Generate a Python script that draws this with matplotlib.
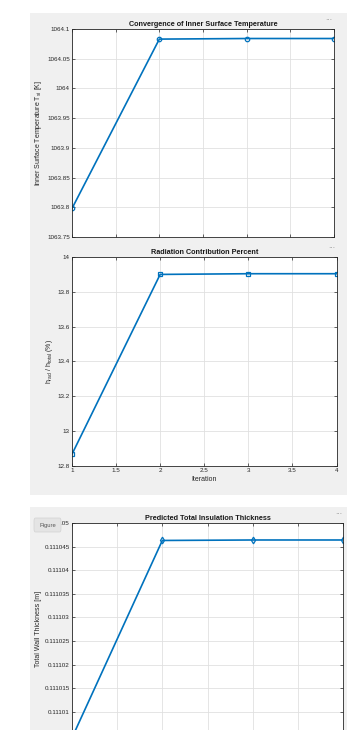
import matplotlib.pyplot as plt
from matplotlib.patches import Rectangle, FancyBboxPatch
from matplotlib.ticker import FormatStrFormatter, MultipleLocator

# iteration history
iteration = [1, 2, 3, 4]
T_si = [1063.798, 1064.083, 1064.084, 1064.084]
rad_pct = [12.868, 13.900, 13.904, 13.904]
thickness = [0.1110045, 0.1110463, 0.1110464, 0.1110464]
thick_ticks = [0.11101, 0.111015, 0.11102, 0.111025, 0.11103,
               0.111035, 0.11104, 0.111045, 0.11105]

blue = (0, 0.447, 0.741)
W, H = 347, 730

plt.rcParams['font.family'] = ['Liberation Sans', 'DejaVu Sans']
plt.rcParams['mathtext.fontset'] = 'custom'
plt.rcParams['mathtext.rm'] = 'Liberation Sans'
plt.rcParams['mathtext.it'] = 'Liberation Sans'

fig = plt.figure(figsize=(W / 100, H / 100), dpi=100)
fig.patch.set_facecolor('white')


def px_rect(x0, y0, x1, y1):
    # pixel box (top-left origin) -> figure fraction [l, b, w, h]
    return [x0 / W, 1 - y1 / H, (x1 - x0) / W, (y1 - y0) / H]


# the two grey MATLAB figure windows
for (x0, y0, x1, y1) in [(30, 13, 347, 495), (30, 507, 347, 760)]:
    l, b, w, h = px_rect(x0, y0, x1, y1)
    fig.patches.append(Rectangle((l, b), w, h, transform=fig.transFigure,
                                 facecolor='#f0f0f0', edgecolor='none', zorder=-5))


def style(ax, title, ylabel):
    ax.set_facecolor('white')
    ax.grid(True, color='#e0e0e0', linewidth=0.6)
    ax.set_axisbelow(True)
    for s in ax.spines.values():
        s.set_color('#262626')
        s.set_linewidth(0.6)
    ax.tick_params(direction='in', length=2.5, width=0.5, labelsize=4.5,
                   colors='#262626', top=True, right=True, pad=1.5)
    ax.set_title(title, fontsize=5.2, fontweight='bold', pad=2.5, color='#1a1a1a')
    ax.set_ylabel(ylabel, fontsize=5, color='#262626', labelpad=2)
    ax.set_xlim(1, 4)
    ax.xaxis.set_major_locator(MultipleLocator(0.5))


ax1 = fig.add_axes(px_rect(72, 29, 334, 237))
ax1.plot(iteration, T_si, '-o', color=blue, lw=1.2, ms=3.2, mfc='none', mew=0.9)
style(ax1, 'Convergence of Inner Surface Temperature', 'Inner Surface Temperature T$_{si}$ [K]')
ax1.set_ylim(1063.75, 1064.1)
ax1.yaxis.set_major_locator(MultipleLocator(0.05))
ax1.yaxis.set_major_formatter(FormatStrFormatter('%g'))
ax1.set_xticklabels([])

ax2 = fig.add_axes(px_rect(72, 257, 336.5, 466))
ax2.plot(iteration, rad_pct, '-s', color=blue, lw=1.2, ms=3.0, mfc='none', mew=0.9)
style(ax2, 'Radiation Contribution Percent', 'h$_{rad}$ / h$_{total}$ (%)')
ax2.set_ylim(12.8, 14)
ax2.yaxis.set_major_locator(MultipleLocator(0.2))
ax2.yaxis.set_major_formatter(FormatStrFormatter('%g'))
ax2.xaxis.set_major_formatter(FormatStrFormatter('%g'))
ax2.set_xlabel('Iteration', fontsize=5, color='#262626', labelpad=2)

ax3 = fig.add_axes(px_rect(72, 523, 343, 759))
ax3.plot(iteration, thickness, '-d', color=blue, lw=1.2, ms=3.4, mfc='none', mew=0.9)
style(ax3, 'Predicted Total Insulation Thickness', 'Total Wall Thickness [m]')
ax3.set_ylim(0.111, 0.11105)
ax3.set_yticks(thick_ticks)
ax3.yaxis.set_major_formatter(FormatStrFormatter('%g'))
ax3.set_xticklabels([])
ax3.yaxis.label.set_y(0.55)

# toolbar dots
for x, y in [(329, 21), (332, 249), (339, 515)]:
    fig.text(x / W, 1 - y / H, '···', fontsize=5, color='#808080',
             ha='center', va='center')

# "Figure" tooltip covering the top tick label
l, b, w, h = px_rect(34, 518, 61, 532)
fig.patches.append(FancyBboxPatch((l, b), w, h, transform=fig.transFigure,
                                  boxstyle='round,pad=0,rounding_size=0.004',
                                  facecolor='#e4e4e4', edgecolor='#d2d2d2',
                                  linewidth=0.5, zorder=10))
fig.text(47.5 / W, 1 - 525 / H, 'Figure', fontsize=4.2, color='#555555',
         ha='center', va='center', zorder=11)

fig.savefig('out.png', dpi=100)
